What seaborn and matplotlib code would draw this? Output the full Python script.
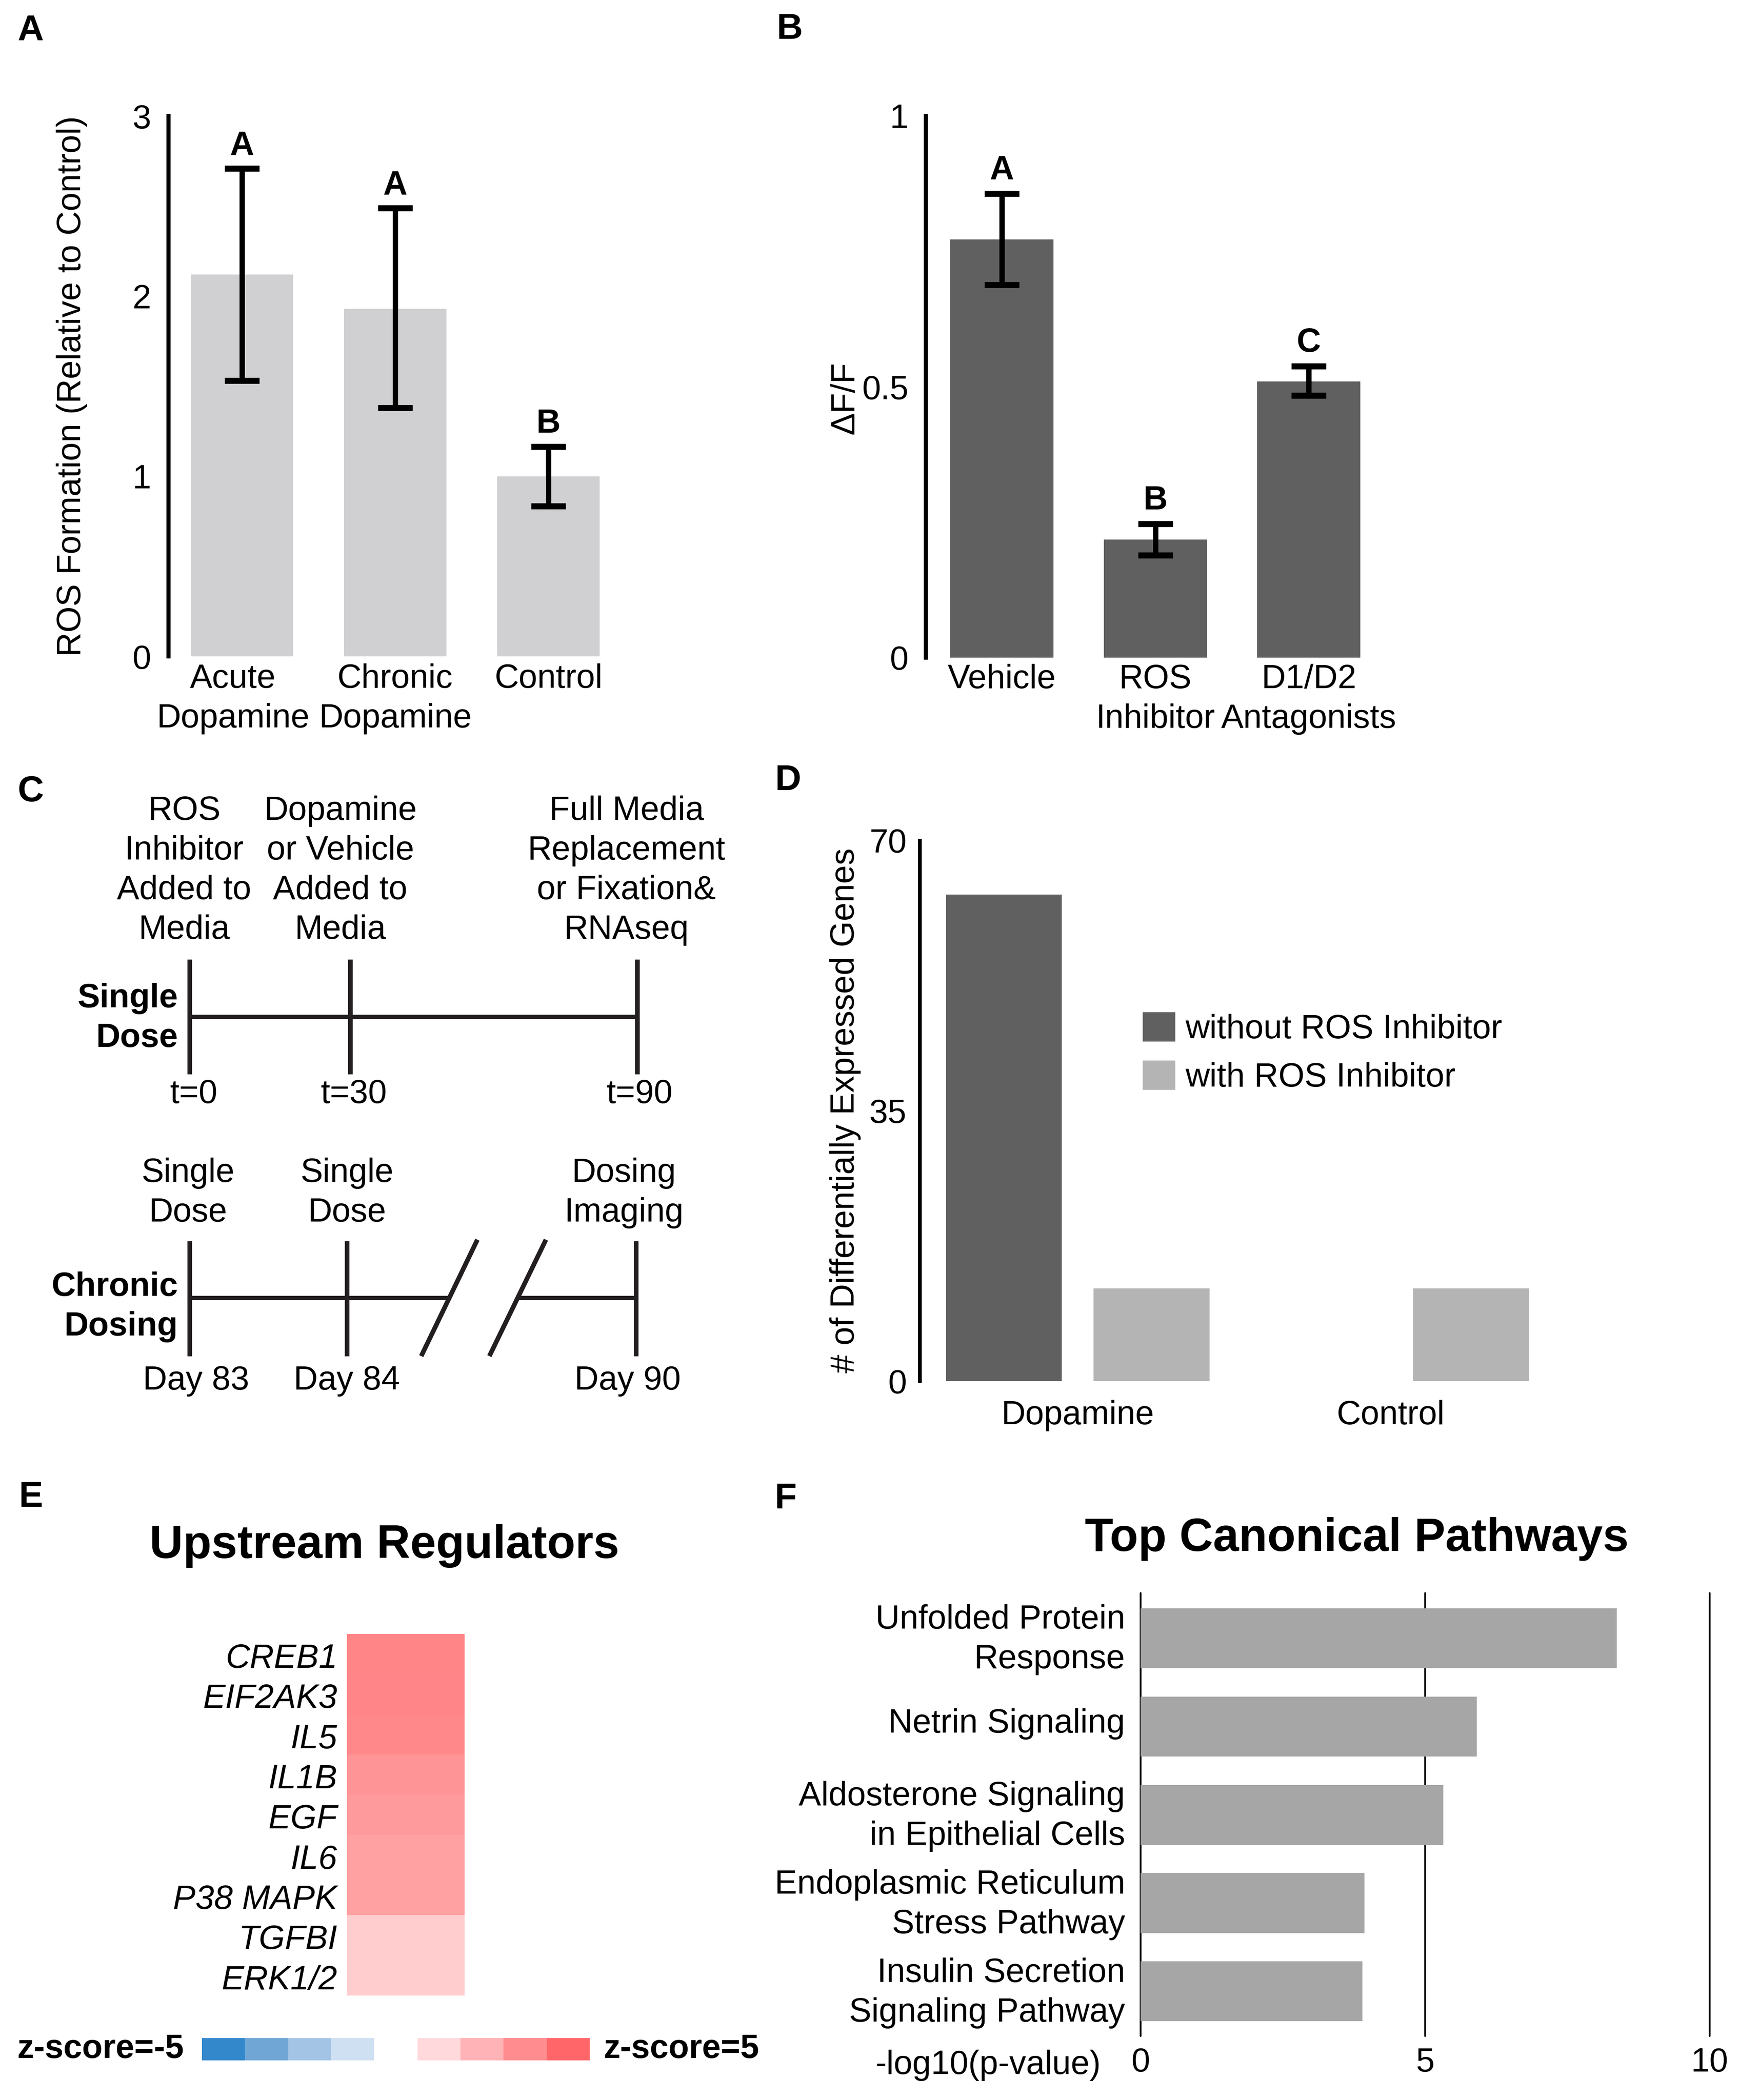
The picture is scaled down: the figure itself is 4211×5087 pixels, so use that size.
import numpy as np
import pandas as pd
import matplotlib
matplotlib.use("Agg")
import matplotlib.pyplot as plt
import matplotlib.transforms as mtransforms
import seaborn as sns
from matplotlib.colors import LinearSegmentedColormap, ListedColormap

# ---------------- data ----------------
ros_groups = ["Acute\nDopamine", "Chronic\nDopamine", "Control"]
ros_values = [2.12, 1.93, 1.0]
ros_err_low = [1.53, 1.38, 0.835]
ros_err_high = [2.71, 2.49, 1.165]
ros_letters = ["A", "A", "B"]
ros_ticks = [0, 1, 2, 3]

dff_groups = ["Vehicle", "ROS\nInhibitor", "D1/D2\nAntagonists"]
dff_values = [0.772, 0.218, 0.51]
dff_err_low = [0.688, 0.189, 0.484]
dff_err_high = [0.857, 0.247, 0.538]
dff_letters = ["A", "B", "C"]
dff_ticks = [0, 0.5, 1]
dff_ticklabels = ["0", "0.5", "1"]

deg_conditions = ["Dopamine", "Dopamine", "Control", "Control"]
deg_treatment = ["without ROS Inhibitor", "with ROS Inhibitor"] * 2
deg_counts = [63, 12, 0, 12]
deg_ticks = [0, 35, 70]

regulators = ["CREB1", "EIF2AK3", "IL5", "IL1B", "EGF", "IL6", "P38 MAPK", "TGFBI", "ERK1/2"]
regulator_z = [4.0, 3.97, 3.9, 3.5, 3.3, 3.1, 3.1, 1.65, 1.65]

key_levels = [-4.375, -3.125, -1.875, -0.625, np.nan, 0.625, 1.875, 3.125, 4.375]
key_colors = ["#3388cc", "#6fa6d6", "#a3c4e5", "#cfe0f2",
              "#ffd9dc", "#ffb3b6", "#ff8c8f", "#ff6669"]

pathways = ["Unfolded Protein\nResponse", "Netrin Signaling",
            "Aldosterone Signaling\nin Epithelial Cells",
            "Endoplasmic Reticulum\nStress Pathway",
            "Insulin Secretion\nSignaling Pathway"]
pathway_logp = [8.37, 5.91, 5.32, 3.93, 3.90]
pathway_ticks = [0, 5, 10]

# schematic (panel C) texts
single_top = ["ROS\nInhibitor\nAdded to\nMedia", "Dopamine\nor Vehicle\nAdded to\nMedia",
              "Full Media\nReplacement\nor Fixation&\nRNAseq"]
single_bottom = ["t=0", "t=30", "t=90"]
chronic_top = ["Single\nDose", "Single\nDose", "Dosing\nImaging"]
chronic_bottom = ["Day 83", "Day 84", "Day 90"]

# ---------------- style ----------------
sns.set_style("white")
plt.rcParams["font.family"] = ["Liberation Sans", "DejaVu Sans"]
for k in ["text.color", "axes.labelcolor", "xtick.color", "ytick.color", "axes.edgecolor"]:
    plt.rcParams[k] = "black"
FS = 19.5
LS = 1.34
plt.rcParams["font.size"] = FS

W, H = 4211, 5087
DPI = 300
fig = plt.figure(figsize=(W / DPI, H / DPI), dpi=DPI)
fig.patch.set_facecolor("white")


def px_axes(x0, y0, x1, y1):
    return fig.add_axes([x0 / W, 1 - y1 / H, (x1 - x0) / W, (y1 - y0) / H])


def shift(label, dx_pt=0.0, dy_pt=0.0):
    label.set_transform(label.get_transform() +
                        mtransforms.ScaledTranslation(dx_pt / 72, dy_pt / 72, fig.dpi_scale_trans))


ov = fig.add_axes([0, 0, 1, 1])
ov.set_xlim(0, W)
ov.set_ylim(H, 0)
ov.axis("off")

LINE = "#231f20"

# ---------------- panel A ----------------
axA = px_axes(408, 281, 1514, 1590)
sns.barplot(x=ros_groups, y=ros_values, color="#d0cfd1", saturation=1, width=0.668,
            errorbar=None, linewidth=0, ax=axA)
axA.errorbar(x=np.arange(len(ros_values)), y=ros_values,
             yerr=[np.array(ros_values) - np.array(ros_err_low),
                   np.array(ros_err_high) - np.array(ros_values)],
             fmt="none", ecolor="black", elinewidth=3.1, capsize=10, capthick=3.5)
for i, (hi, let) in enumerate(zip(ros_err_high, ros_letters)):
    axA.annotate(let, (i, hi), xytext=(0, 8), textcoords="offset points",
                 ha="center", va="baseline", fontweight="bold", fontsize=FS)
axA.set_xlim(-0.48, 2.5)
axA.set_ylim(0, 3)
axA.set_yticks(ros_ticks)
sns.despine(ax=axA, bottom=True)
axA.spines["left"].set_linewidth(2.4)
axA.tick_params(axis="y", direction="in", length=6, width=2.4, pad=10, labelsize=FS)
axA.tick_params(axis="x", length=0, pad=4, labelsize=FS)
for t in axA.get_xticklabels():
    t.set_linespacing(LS)
shift(axA.get_xticklabels()[0], dx_pt=-5.3)
axA.set_ylabel("ROS Formation (Relative to Control)", fontsize=FS, va="center")
axA.yaxis.set_label_coords((174 - 408) / (1514 - 408), 0.5)

# ---------------- panel B ----------------
axB = px_axes(2242, 281, 3355, 1593)
sns.barplot(x=dff_groups, y=dff_values, color="#606060", saturation=1, width=0.673,
            errorbar=None, linewidth=0, ax=axB)
axB.errorbar(x=np.arange(len(dff_values)), y=dff_values,
             yerr=[np.array(dff_values) - np.array(dff_err_low),
                   np.array(dff_err_high) - np.array(dff_values)],
             fmt="none", ecolor="black", elinewidth=3.1, capsize=10, capthick=3.5)
for i, (hi, let) in enumerate(zip(dff_err_high, dff_letters)):
    axB.annotate(let, (i, hi), xytext=(0, 8.5), textcoords="offset points",
                 ha="center", va="baseline", fontweight="bold", fontsize=FS)
axB.set_xlim(-0.495, 2.5)
axB.set_ylim(0, 1)
axB.set_yticks(dff_ticks)
axB.set_yticklabels(dff_ticklabels)
sns.despine(ax=axB, bottom=True)
axB.spines["left"].set_linewidth(2.4)
axB.tick_params(axis="y", direction="in", length=6, width=2.4, pad=10, labelsize=FS)
axB.tick_params(axis="x", length=0, pad=3.5, labelsize=FS)
for t in axB.get_xticklabels():
    t.set_linespacing(LS)
axB.set_ylabel("\u0394F/F", fontsize=FS, va="center")
axB.yaxis.set_label_coords((2047 - 2242) / (3355 - 2242), (1593 - 964) / (1593 - 281))

# ---------------- panel C (schematic) ----------------
s_x = [459, 848, 1543]
for x in s_x:
    ov.plot([x, x], [2324, 2602], color=LINE, lw=2.7, solid_capstyle="butt")
ov.plot([s_x[0], s_x[-1]], [2463, 2463], color=LINE, lw=2.4, solid_capstyle="butt")
for x, t in zip([446, 824, 1517], single_top):
    ov.text(x, 2109, t, ha="center", va="center", fontsize=FS, linespacing=LS)
for x, t in zip([469, 857, 1549], single_bottom):
    ov.text(x, 2651, t, ha="center", va="center", fontsize=FS)
ov.text(431, 2467, "Single\nDose", ha="right", va="center", fontsize=FS,
        fontweight="bold", linespacing=LS)

c_x = [459, 840, 1540]
for x in c_x:
    ov.plot([x, x], [3006, 3285], color=LINE, lw=2.7, solid_capstyle="butt")
ov.plot([459, 1088], [3144, 3144], color=LINE, lw=2.4, solid_capstyle="butt")
ov.plot([1253, 1540], [3144, 3144], color=LINE, lw=2.4, solid_capstyle="butt")
ov.plot([1020, 1156], [3285, 3003], color=LINE, lw=2.7, solid_capstyle="butt")
ov.plot([1185, 1322], [3285, 3003], color=LINE, lw=2.7, solid_capstyle="butt")
for x, t in zip([455, 840, 1511], chronic_top):
    ov.text(x, 2890, t, ha="center", va="center", fontsize=FS, linespacing=LS)
for x, t in zip([475, 840, 1520], chronic_bottom):
    ov.text(x, 3345, t, ha="center", va="center", fontsize=FS)
ov.text(431, 3166, "Chronic\nDosing", ha="right", va="center", fontsize=FS,
        fontweight="bold", linespacing=LS)

# ---------------- panel D ----------------
axD = px_axes(2227, 2036, 3770, 3345)
df_deg = pd.DataFrame({"condition": deg_conditions, "treatment": deg_treatment,
                       "count": deg_counts})
sns.barplot(data=df_deg, x="condition", y="count", hue="treatment",
            palette=["#606060", "#b4b4b4"], saturation=1, width=0.924, gap=0.216,
            errorbar=None, linewidth=0, ax=axD)
axD.set_xlim(-0.495, 1.5)
axD.set_ylim(0, 70)
axD.set_yticks(deg_ticks)
sns.despine(ax=axD, bottom=True)
axD.spines["left"].set_linewidth(2.2)
axD.tick_params(axis="y", direction="in", length=7, width=2.2, pad=7.5, labelsize=FS)
axD.tick_params(axis="x", length=0, pad=11, labelsize=FS)
shift(axD.get_xticklabels()[1], dx_pt=-3.8)
axD.set_xlabel("")
axD.set_ylabel("# of Differentially Expressed Genes", fontsize=FS, va="center")
axD.yaxis.set_label_coords((2047 - 2227) / (3770 - 2227), 0.5)
h, l = axD.get_legend_handles_labels()
axD.legend(h, l, loc="upper left", bbox_to_anchor=(2767 / W, 1 - 2452 / H),
           bbox_transform=fig.transFigure, frameon=False, borderpad=0,
           borderaxespad=0, handlelength=0.97, handleheight=0.97,
           handletextpad=0.3, labelspacing=0.45, fontsize=FS)

# ---------------- panel E ----------------
axE = px_axes(840, 3958, 1125, 4834)
df_reg = pd.DataFrame({"z": regulator_z}, index=regulators)
cmap_up = LinearSegmentedColormap.from_list("up", ["#ffffff", "#ff6669"])
sns.heatmap(df_reg, cmap=cmap_up, vmin=0, vmax=5, cbar=False, ax=axE,
            xticklabels=False, yticklabels=True)
axE.tick_params(axis="y", length=0, pad=5.5, labelsize=FS, labelrotation=0)
for t in axE.get_yticklabels():
    t.set_fontstyle("italic")
    shift(t, dy_pt=-3)
axE.set_ylabel("")
axE.set_xlabel("")
ov.text(931, 3745, "Upstream Regulators", ha="center", va="center",
        fontsize=27, fontweight="bold")

axK = px_axes(489, 4937, 1428, 4991)
sns.heatmap(np.array([key_levels]), cmap=ListedColormap(key_colors), vmin=-5, vmax=5,
            cbar=False, ax=axK, xticklabels=False, yticklabels=False)
ov.text(446, 4964, "z-score=-5", ha="right", va="center", fontsize=FS, fontweight="bold")
ov.text(1462, 4964, "z-score=5", ha="left", va="center", fontsize=FS, fontweight="bold")

# ---------------- panel F ----------------
axF = px_axes(2762, 3859, 4140, 4932)
sns.barplot(x=pathway_logp, y=pathways, orient="h", color="#a6a6a6", saturation=1,
            width=0.678, errorbar=None, linewidth=0, ax=axF)
axF.set_xlim(0, 10)
axF.set_ylim(4.505, -0.51)
axF.set_xticks(pathway_ticks)
for s in axF.spines.values():
    s.set_visible(False)
axF.grid(axis="x", color="black", lw=1.05)
axF.grid(axis="y", visible=False)
axF.set_axisbelow(True)
for gl in axF.get_xgridlines():
    gl.set_clip_on(False)
axF.tick_params(axis="x", length=0, pad=6.5, labelsize=FS)
axF.tick_params(axis="y", length=0, pad=9, labelsize=FS)
for t in axF.get_yticklabels():
    t.set_linespacing(LS)
    shift(t, dy_pt=3.5)
axF.set_xlabel("")
axF.set_ylabel("")
ov.text(2666, 5003, "-log10(p-value)", ha="right", va="center", fontsize=FS)
ov.text(3285, 3728, "Top Canonical Pathways", ha="center", va="center",
        fontsize=27, fontweight="bold")

# ---------------- panel letters ----------------
for (x, y, t) in [(74, 75, "A"), (1912, 72, "B"), (74, 1919, "C"),
                  (1908, 1892, "D"), (74, 3627, "E"), (1902, 3632, "F")]:
    ov.text(x, y, t, ha="center", va="center", fontsize=21, fontweight="bold")

fig.savefig("out.png", dpi=DPI, facecolor="white")
